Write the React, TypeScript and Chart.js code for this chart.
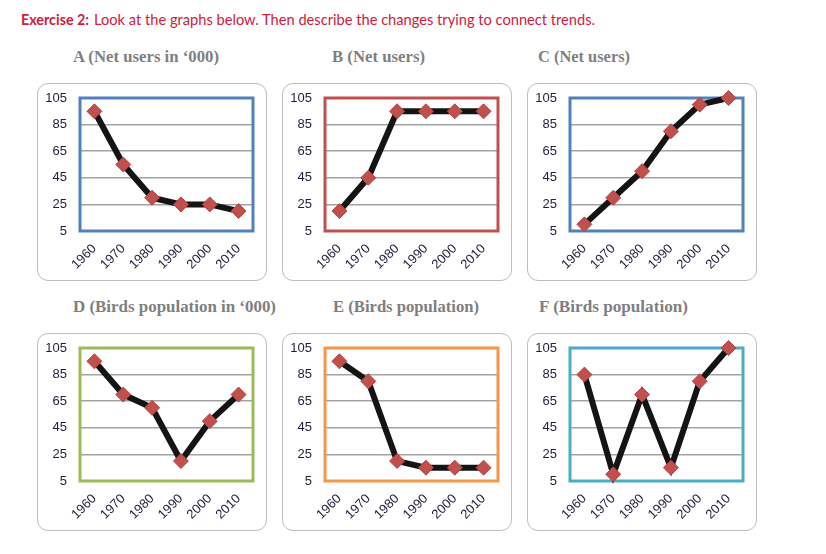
import React, { useEffect, useRef } from "react";
import { Chart, registerables } from "chart.js";

Chart.register(...registerables);

// ---- data ----
const years = ["1960", "1970", "1980", "1990", "2000", "2010"];
const yMin = 5;
const yMax = 105;
const yStep = 20;

const netUsersThousands = [95, 55, 30, 25, 25, 20]; // A
const netUsersB = [20, 45, 95, 95, 95, 95]; // B
const netUsersC = [10, 30, 50, 80, 100, 105]; // C
const birdsThousands = [95, 70, 60, 20, 50, 70]; // D
const birdsE = [95, 80, 20, 15, 15, 15]; // E
const birdsF = [85, 10, 70, 15, 80, 105]; // F

const panelTitles = [
  "A (Net users in \u2018000)",
  "B (Net users)",
  "C (Net users)",
  "D (Birds population in \u2018000)",
  "E (Birds population)",
  "F (Birds population)",
];
const panelSeries = [netUsersThousands, netUsersB, netUsersC, birdsThousands, birdsE, birdsF];

// ---- layout / styles ----
const frameColors = ["#4f81bd", "#c0504d", "#4f81bd", "#9bbb59", "#f79646", "#4bacc6"];
const boxLeft = [37, 282, 527];
const boxTop = [83, 333];
const boxW = 230;
const boxH = 198;
const titleLayout = [
  { x: 73, len: 146 },
  { x: 332, len: 93 },
  { x: 538, len: 92 },
  { x: 73, len: 203 },
  { x: 333, len: 146 },
  { x: 539, len: 149 },
];
const titleBaseline = [62, 312];
const tickFont = { family: "'Liberation Sans', Arial, sans-serif", size: 13 };

const framePlugin = {
  id: "plotFrame",
  beforeDatasetsDraw(chart: any, _args: any, opts: any) {
    const { ctx, chartArea } = chart;
    ctx.save();
    ctx.strokeStyle = opts.color;
    ctx.lineWidth = 3;
    ctx.strokeRect(chartArea.left, chartArea.top, chartArea.right - chartArea.left, chartArea.bottom - chartArea.top);
    ctx.restore();
  },
};

function Panel({ idx }: { idx: number }) {
  const ref = useRef<HTMLCanvasElement | null>(null);
  useEffect(() => {
    if (!ref.current) return;
    const chart = new Chart(ref.current, {
      type: "line",
      data: {
        labels: years,
        datasets: [
          {
            data: panelSeries[idx],
            borderColor: "#141414",
            borderWidth: 6,
            tension: 0,
            pointStyle: "rectRot",
            pointRadius: 7.5,
            pointBorderWidth: 1,
            pointBackgroundColor: "#c0504d",
            pointBorderColor: "#b8443f",
            clip: false as any,
          },
        ],
      },
      options: {
        animation: false,
        responsive: false,
        maintainAspectRatio: false,
        layout: { padding: { left: 0, right: 14, top: 15, bottom: 0 } },
        plugins: {
          legend: { display: false },
          tooltip: { enabled: false },
          plotFrame: { color: frameColors[idx] },
        } as any,
        scales: {
          x: {
            offset: true,
            grid: { display: false, drawTicks: false },
            border: { display: false },
            ticks: {
              minRotation: 45,
              maxRotation: 45,
              padding: 10,
              color: "#1e1e3c",
              font: tickFont,
            },
            afterFit: (s: any) => {
              s.height = 50;
            },
          },
          y: {
            min: yMin,
            max: yMax,
            grid: {
              color: "#a3a3a3",
              lineWidth: 1.5,
              drawTicks: true,
              tickLength: 13,
              tickColor: "rgba(0,0,0,0)",
            },
            border: { display: false },
            ticks: {
              stepSize: yStep,
              padding: 0,
              color: "#1e1e3c",
              font: tickFont,
            },
            afterFit: (s: any) => {
              s.width = 43;
            },
          },
        },
      },
      plugins: [framePlugin],
    });
    return () => chart.destroy();
  }, [idx]);

  const col = idx % 3;
  const row = Math.floor(idx / 3);
  return (
    <div
      style={{
        position: "absolute",
        left: boxLeft[col],
        top: boxTop[row],
        width: boxW,
        height: boxH,
        border: "1px solid #bdbdbd",
        borderRadius: 11,
        boxSizing: "border-box",
        background: "#fff",
        overflow: "hidden",
      }}
    >
      <canvas ref={ref} width={boxW} height={boxH} style={{ position: "absolute", left: -1, top: -1, width: boxW, height: boxH }} />
    </div>
  );
}

export default function App() {
  return (
    <div style={{ position: "absolute", left: 0, top: 0, width: 826, height: 554, background: "#fff", overflow: "hidden" }}>
      <svg width={826} height={554} style={{ position: "absolute", left: 0, top: 0 }}>
        <text x={21} y={25} fill="#d0203a" fontFamily="Lato, 'Open Sans', sans-serif" fontWeight="bold" fontSize={16} textLength={68} lengthAdjust="spacingAndGlyphs">
          Exercise 2:
        </text>
        <text x={94} y={25} fill="#d0203a" fontFamily="Lato, 'Open Sans', sans-serif" fontSize={16} textLength={501} lengthAdjust="spacingAndGlyphs">
          Look at the graphs below. Then describe the changes trying to connect trends.
        </text>
        {panelTitles.map((t, i) => (
          <text
            key={i}
            x={titleLayout[i].x}
            y={titleBaseline[Math.floor(i / 3)]}
            fill="#7f7f7f"
            fontFamily="'Liberation Serif', 'DejaVu Serif', serif"
            fontWeight="bold"
            fontSize={17}
            textLength={titleLayout[i].len}
            lengthAdjust="spacingAndGlyphs"
          >
            {t}
          </text>
        ))}
      </svg>
      {panelSeries.map((_, i) => (
        <Panel key={i} idx={i} />
      ))}
    </div>
  );
}
